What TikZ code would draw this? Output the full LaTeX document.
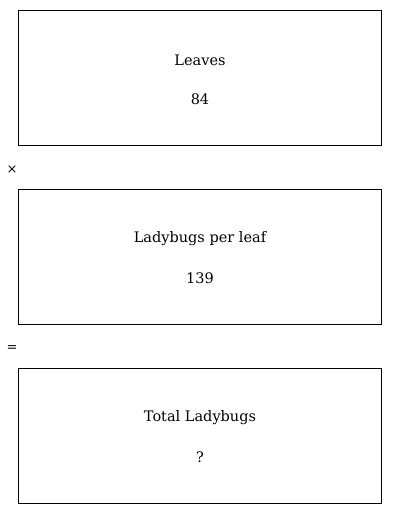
\documentclass[tikz,border=0pt]{standalone}
\usepackage{fontspec}
\setmainfont{DejaVu Serif}
\begin{document}
\begin{tikzpicture}[x=1pt,y=-1pt,
  box/.style={draw,line width=0.9pt,minimum width=363pt,minimum height=135pt,anchor=north west,inner sep=0pt},
  lbl/.style={font=\fontsize{14.5}{17}\selectfont},
  op/.style={font=\fontsize{13}{15}\selectfont}]
\useasboundingbox (0,0) rectangle (400,514);
\node[box] (b1) at (18,10) {};
\node[box] (b2) at (18,189) {};
\node[box] (b3) at (18,368) {};
\node[lbl] (t1) at (200,60) {Leaves};
\node[lbl] (v1) at (200,99) {84};
\node[lbl] (t2) at (200,239) {Ladybugs per leaf};
\node[lbl] (v2) at (200,278) {139};
\node[lbl] (t3) at (200,418) {Total Ladybugs};
\node[lbl] (v3) at (200,457) {?};
\node[op] (times) at (12,170) {×};
\node[op] (eq) at (12,349) {=};
\end{tikzpicture}
\end{document}
